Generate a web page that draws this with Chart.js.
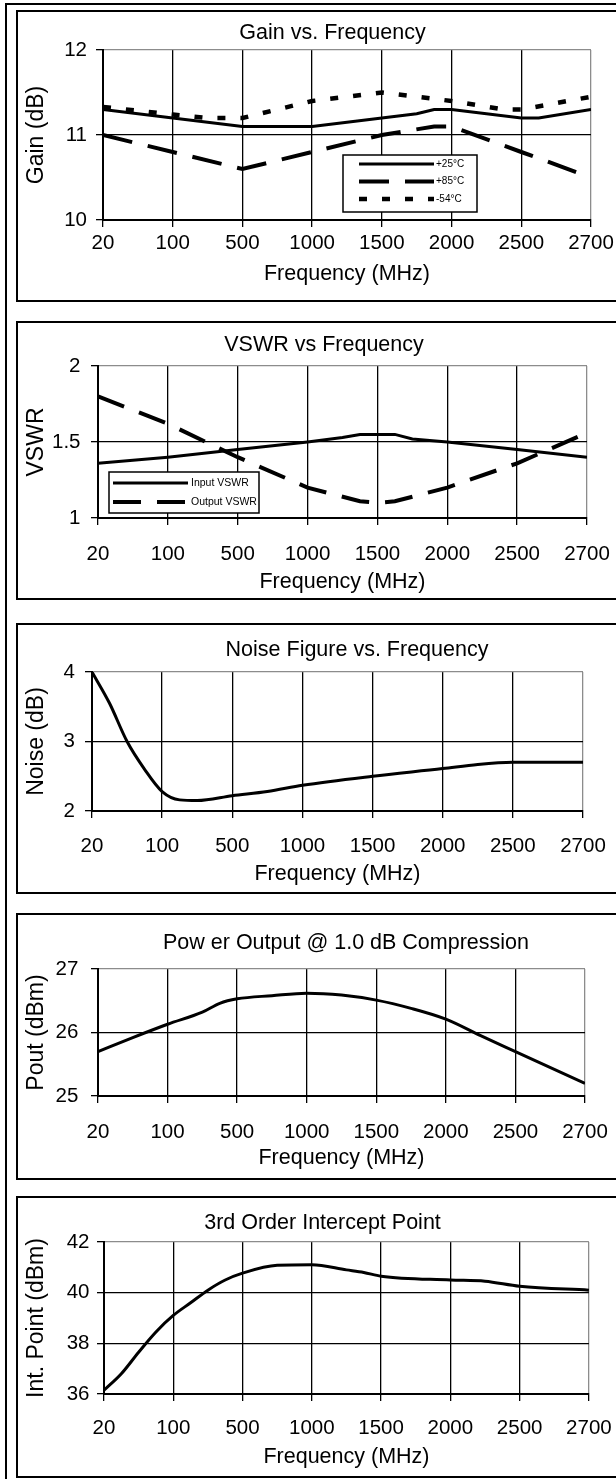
<!DOCTYPE html>
<html>
<head>
<meta charset="utf-8">
<script src="https://cdn.jsdelivr.net/npm/chart.js@4.4.1/dist/chart.umd.min.js"></script>
<style>
  html, body { margin: 0; padding: 0; background: #fff; }
  body { width: 616px; height: 1479px; overflow: hidden; position: relative; }
  #frame { position: absolute; left: 5px; top: 3px; width: 700px; height: 1600px; border: 2px solid #000; }
  .panel { position: absolute; left: 16px; width: 700px; border: 2px solid #000; background: #fff; }
  .panel canvas { position: absolute; left: 0; top: 0; }
</style>
</head>
<body>
<div id="frame"></div>
<div class="panel" style="top:10px;height:288px"><canvas id="gainChart" width="629" height="288"></canvas></div>
<div class="panel" style="top:321px;height:275px"><canvas id="vswrChart" width="612" height="275"></canvas></div>
<div class="panel" style="top:623px;height:267px"><canvas id="noiseChart" width="678" height="267"></canvas></div>
<div class="panel" style="top:913px;height:263px"><canvas id="poutChart" width="656" height="263"></canvas></div>
<div class="panel" style="top:1196px;height:278px"><canvas id="ip3Chart" width="609" height="278"></canvas></div>
<script>
// x axis tick labels (positions below are given in label-index units)
const freqLabels = ['20', '100', '500', '1000', '1500', '2000', '2500', '2700'];

// Gain vs. Frequency
const gainTicks = [10, 11, 12];
const gain25X = [0, 1, 2, 3, 4, 4.5, 4.75, 5, 6, 6.25, 7];
const gain25 = [11.3, 11.2, 11.1, 11.1, 11.2, 11.25, 11.3, 11.3, 11.2, 11.2, 11.3];
const gain85X = [0, 1, 2, 3, 4, 4.75, 5, 6, 7];
const gain85 = [11.0, 10.8, 10.6, 10.8, 11.0, 11.1, 11.1, 10.8, 10.5];
const gain54X = [0, 1, 1.5, 2, 3, 4, 5, 5.75, 6, 7];
const gain54 = [11.33, 11.24, 11.2, 11.2, 11.4, 11.5, 11.4, 11.3, 11.3, 11.45];

// VSWR vs Frequency
const vswrTicks = [1, 1.5, 2];
const vswrInX = [0, 1, 2, 3, 3.5, 3.75, 4.25, 4.5, 5, 6, 7];
const vswrIn = [1.36, 1.4, 1.45, 1.5, 1.53, 1.55, 1.55, 1.52, 1.5, 1.45, 1.4];
const vswrOutX = [0, 1, 2, 3, 3.75, 4, 4.25, 5, 6, 7];
const vswrOut = [1.8, 1.62, 1.4, 1.2, 1.11, 1.1, 1.11, 1.2, 1.36, 1.56];

// Noise Figure vs. Frequency
const noiseTicks = [2, 3, 4];
const noiseX = [0, 0.25, 0.5, 0.75, 1, 1.25, 1.5, 2, 2.5, 3, 4, 5, 5.5, 6, 7];
const noise = [4.0, 3.55, 3.0, 2.6, 2.28, 2.16, 2.15, 2.22, 2.28, 2.37, 2.5, 2.61, 2.67, 2.7, 2.7];

// Power Output @ 1.0 dB Compression
const poutTicks = [25, 26, 27];
const poutX = [0, 0.5, 1, 1.5, 1.75, 2, 2.5, 3, 3.5, 4, 4.5, 5, 5.5, 6, 7];
const pout = [25.7, 25.92, 26.13, 26.32, 26.46, 26.53, 26.58, 26.62, 26.59, 26.51, 26.38, 26.21, 25.95, 25.7, 25.2];

// 3rd Order Intercept Point
const ip3Ticks = [36, 38, 40, 42];
const ip3X = [0, 0.25, 0.5, 0.75, 1, 1.25, 1.5, 1.75, 2, 2.5, 3, 3.5, 3.75, 4, 5, 5.5, 6, 7];
const ip3 = [36.15, 36.8, 37.65, 38.45, 39.1, 39.6, 40.1, 40.5, 40.77, 41.08, 41.1, 40.9, 40.8, 40.65, 40.5, 40.45, 40.25, 40.1];

Chart.defaults.font.family = "'Liberation Sans', Arial, Helvetica, sans-serif";
Chart.defaults.color = '#000';

function pts(xs, ys) {
    return xs.map((x, i) => ({ x: x, y: ys[i] }));
}

// legend box drawn inside the plot area, like the original
const boxLegend = {
    id: 'boxLegend',
    afterDatasetsDraw(chart, args, opts) {
        if (!opts || !opts.box) return;
        const ctx = chart.ctx;
        const b = opts.box;
        ctx.save();
        ctx.fillStyle = '#fff';
        ctx.fillRect(b.x, b.y, b.w, b.h);
        ctx.lineWidth = 1.5;
        ctx.strokeStyle = '#000';
        ctx.strokeRect(b.x, b.y, b.w, b.h);
        ctx.font = opts.fontSize + "px 'Liberation Sans', Arial, sans-serif";
        ctx.textBaseline = 'middle';
        chart.data.datasets.forEach((ds, i) => {
            const y = b.y + opts.rows[i];
            ctx.beginPath();
            ctx.setLineDash(ds.borderDash || []);
            ctx.lineWidth = ds.borderWidth;
            ctx.moveTo(b.x + opts.lineX[0], y);
            ctx.lineTo(b.x + opts.lineX[1], y);
            ctx.stroke();
            ctx.setLineDash([]);
            ctx.fillStyle = '#000';
            ctx.fillText(ds.label, b.x + opts.textX, y);
        });
        ctx.restore();
    }
};

function lineSet(label, xs, ys, width, dash, smooth) {
    return {
        label: label,
        data: pts(xs, ys),
        borderColor: '#000',
        borderWidth: width,
        borderDash: dash,
        borderCapStyle: 'butt',
        pointRadius: 0,
        fill: false,
        tension: 0,
        cubicInterpolationMode: smooth ? 'monotone' : 'default'
    };
}

function buildChart(id, p, titleText, yTitle, yTicks, datasets, legend) {
    const last = freqLabels.length - 1;
    const yMax = yTicks[yTicks.length - 1];
    return new Chart(document.getElementById(id), {
        type: 'line',
        data: { datasets: datasets },
        options: {
            responsive: false,
            animation: false,
            events: [],
            layout: { padding: 0 },
            plugins: {
                legend: { display: false },
                tooltip: { enabled: false },
                title: {
                    display: true,
                    text: titleText,
                    color: '#000',
                    font: { size: 21.5, weight: 'normal' },
                    padding: { top: p.tt, bottom: p.tb }
                },
                boxLegend: legend || false
            },
            scales: {
                x: {
                    type: 'linear',
                    min: 0,
                    max: last,
                    afterFit: s => { s.height = p.h - p.bottom; },
                    ticks: {
                        stepSize: 1,
                        autoSkip: false,
                        maxRotation: 0,
                        padding: p.xp,
                        font: { size: 20.5 },
                        color: '#000',
                        callback: v => freqLabels[v]
                    },
                    grid: {
                        color: c => c.index === last ? '#8c8c8c' : '#000',
                        lineWidth: 1.3,
                        tickLength: 7,
                        tickColor: '#000'
                    },
                    border: { color: '#000', width: 2 },
                    title: {
                        display: true,
                        text: 'Frequency (MHz)',
                        color: '#000',
                        font: { size: 21.5 },
                        padding: { top: 0, bottom: p.xt }
                    }
                },
                y: {
                    min: yTicks[0],
                    max: yMax,
                    afterFit: s => { s.width = p.left; },
                    ticks: {
                        stepSize: yTicks[1] - yTicks[0],
                        padding: p.yp,
                        font: { size: 20.5 },
                        color: '#000',
                        callback: v => String(v)
                    },
                    grid: {
                        color: c => (c.tick && c.tick.value === yMax) ? '#8c8c8c' : '#000',
                        lineWidth: 1.3,
                        tickLength: 7,
                        tickColor: '#000'
                    },
                    border: { color: '#000', width: 2 },
                    title: {
                        display: true,
                        text: yTitle,
                        color: '#000',
                        font: { size: 23 },
                        padding: { top: 5, bottom: 0 }
                    }
                },
                // empty right-hand box: keeps the blank space right of the plot
                // without moving the centred chart title
                spacer: {
                    position: 'right',
                    display: true,
                    afterFit: s => { s.width = p.w - p.right; },
                    ticks: { display: false },
                    grid: { display: false },
                    border: { display: false }
                }
            }
        },
        plugins: [boxLegend]
    });
}

document.addEventListener('DOMContentLoaded', function() {
    buildChart('gainChart',
        { w: 629, h: 288, left: 85, right: 573, bottom: 208, tt: 8.1, tb: 4.1, xp: 3.8, yp: 9, xt: 13.1 },
        'Gain vs. Frequency', 'Gain (dB)', gainTicks,
        [
            lineSet('+25°C', gain25X, gain25, 3, [], false),
            lineSet('+85°C', gain85X, gain85, 4, [30, 16], false),
            lineSet('-54°C', gain54X, gain54, 4.5, [8, 15], false)
        ],
        { box: { x: 325, y: 143, w: 134, h: 57 }, rows: [9, 26.5, 44], lineX: [16, 91], textX: 93, fontSize: 10 });

    buildChart('vswrChart',
        { w: 612, h: 275, left: 80, right: 569, bottom: 195, tt: 9.1, tb: 8.1, xp: 17.3, yp: 10.5, xt: 3.1 },
        'VSWR vs Frequency', 'VSWR', vswrTicks,
        [
            lineSet('Input VSWR', vswrInX, vswrIn, 3, [], false),
            lineSet('Output VSWR', vswrOutX, vswrOut, 4, [28, 16], false)
        ],
        { box: { x: 91, y: 149, w: 150, h: 41 }, rows: [11, 30], lineX: [4, 79], textX: 82, fontSize: 10.5 });

    buildChart('noiseChart',
        { w: 678, h: 267, left: 74, right: 565, bottom: 186, tt: 12.1, tb: 9.1, xp: 16.3, yp: 10, xt: 5.1 },
        'Noise Figure vs. Frequency', 'Noise (dB)', noiseTicks,
        [lineSet('Noise', noiseX, noise, 3, [], true)]);

    buildChart('poutChart',
        { w: 656, h: 263, left: 80, right: 567, bottom: 181, tt: 15.1, tb: 13.1, xp: 17.3, yp: 12.6, xt: 7.1 },
        'Pow er Output @ 1.0 dB Compression', 'Pout (dBm)', poutTicks,
        [lineSet('Pout', poutX, pout, 3, [], true)]);

    buildChart('ip3Chart',
        { w: 609, h: 278, left: 86, right: 573, bottom: 196, tt: 12.1, tb: 6.1, xp: 15.3, yp: 7.5, xt: 6.1 },
        '3rd Order Intercept Point', 'Int. Point (dBm)', ip3Ticks,
        [lineSet('IP3', ip3X, ip3, 3, [], true)]);
});
</script>
</body>
</html>
